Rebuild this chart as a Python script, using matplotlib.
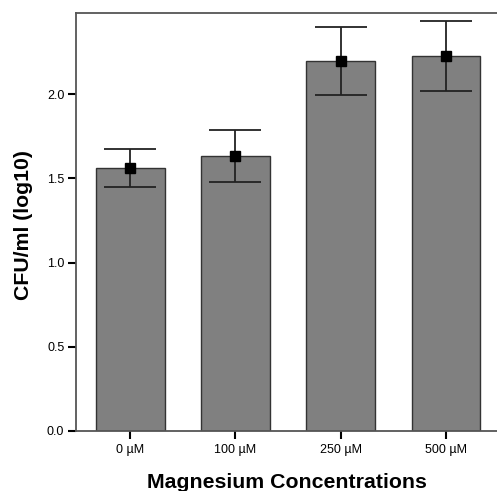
import numpy as np
import matplotlib
matplotlib.use("Agg")
import matplotlib.pyplot as plt

plt.rcParams['font.family'] = ['Liberation Sans', 'DejaVu Sans']

# data
concentrations = ["0 µM", "100 µM", "250 µM", "500 µM"]
cfu_log10 = [1.564, 1.634, 2.200, 2.228]
cfu_err = [0.113, 0.155, 0.202, 0.208]
y_ticks = [0.0, 0.5, 1.0, 1.5, 2.0]

x = np.arange(len(concentrations))

fig = plt.figure(figsize=(4.97, 4.91), dpi=100)
ax = fig.add_axes([0.1539, 0.1232, 0.8461, 0.8503])

ax.bar(x, cfu_log10, width=0.653, color="#808080", edgecolor="#333333",
       linewidth=1.0, zorder=2)
ax.errorbar(x, cfu_log10, yerr=cfu_err, fmt="s", color="black",
            ecolor="#222222", elinewidth=1.3, capsize=18.7, capthick=1.3,
            markersize=7, zorder=3)

ax.set_xlim(-0.511, 3.485)
ax.set_ylim(0, 2.485)
ax.set_xticks(x)
ax.set_xticklabels(concentrations, fontsize=9)
ax.set_yticks(y_ticks)
ax.set_yticklabels(["%.1f" % v for v in y_ticks], fontsize=9)

for side in ["top", "left", "bottom"]:
    ax.spines[side].set_color("#555555")
    ax.spines[side].set_linewidth(1.3)
ax.spines["right"].set_visible(False)

ax.tick_params(axis="both", length=5.8, width=1.5, color="black")
ax.tick_params(axis="y", pad=3)
ax.tick_params(axis="x", pad=4)

ax.set_xlabel("Magnesium Concentrations", fontsize=15.3, fontweight="bold")
ax.set_ylabel("CFU/ml (log10)", fontsize=15.3, fontweight="bold")
ax.xaxis.label.set_va("center")
ax.yaxis.label.set_va("center")
ax.xaxis.set_label_coords(0.5, -0.125)
ax.yaxis.set_label_coords(-0.127, 0.492)

fig.savefig("out.png", dpi=100)
